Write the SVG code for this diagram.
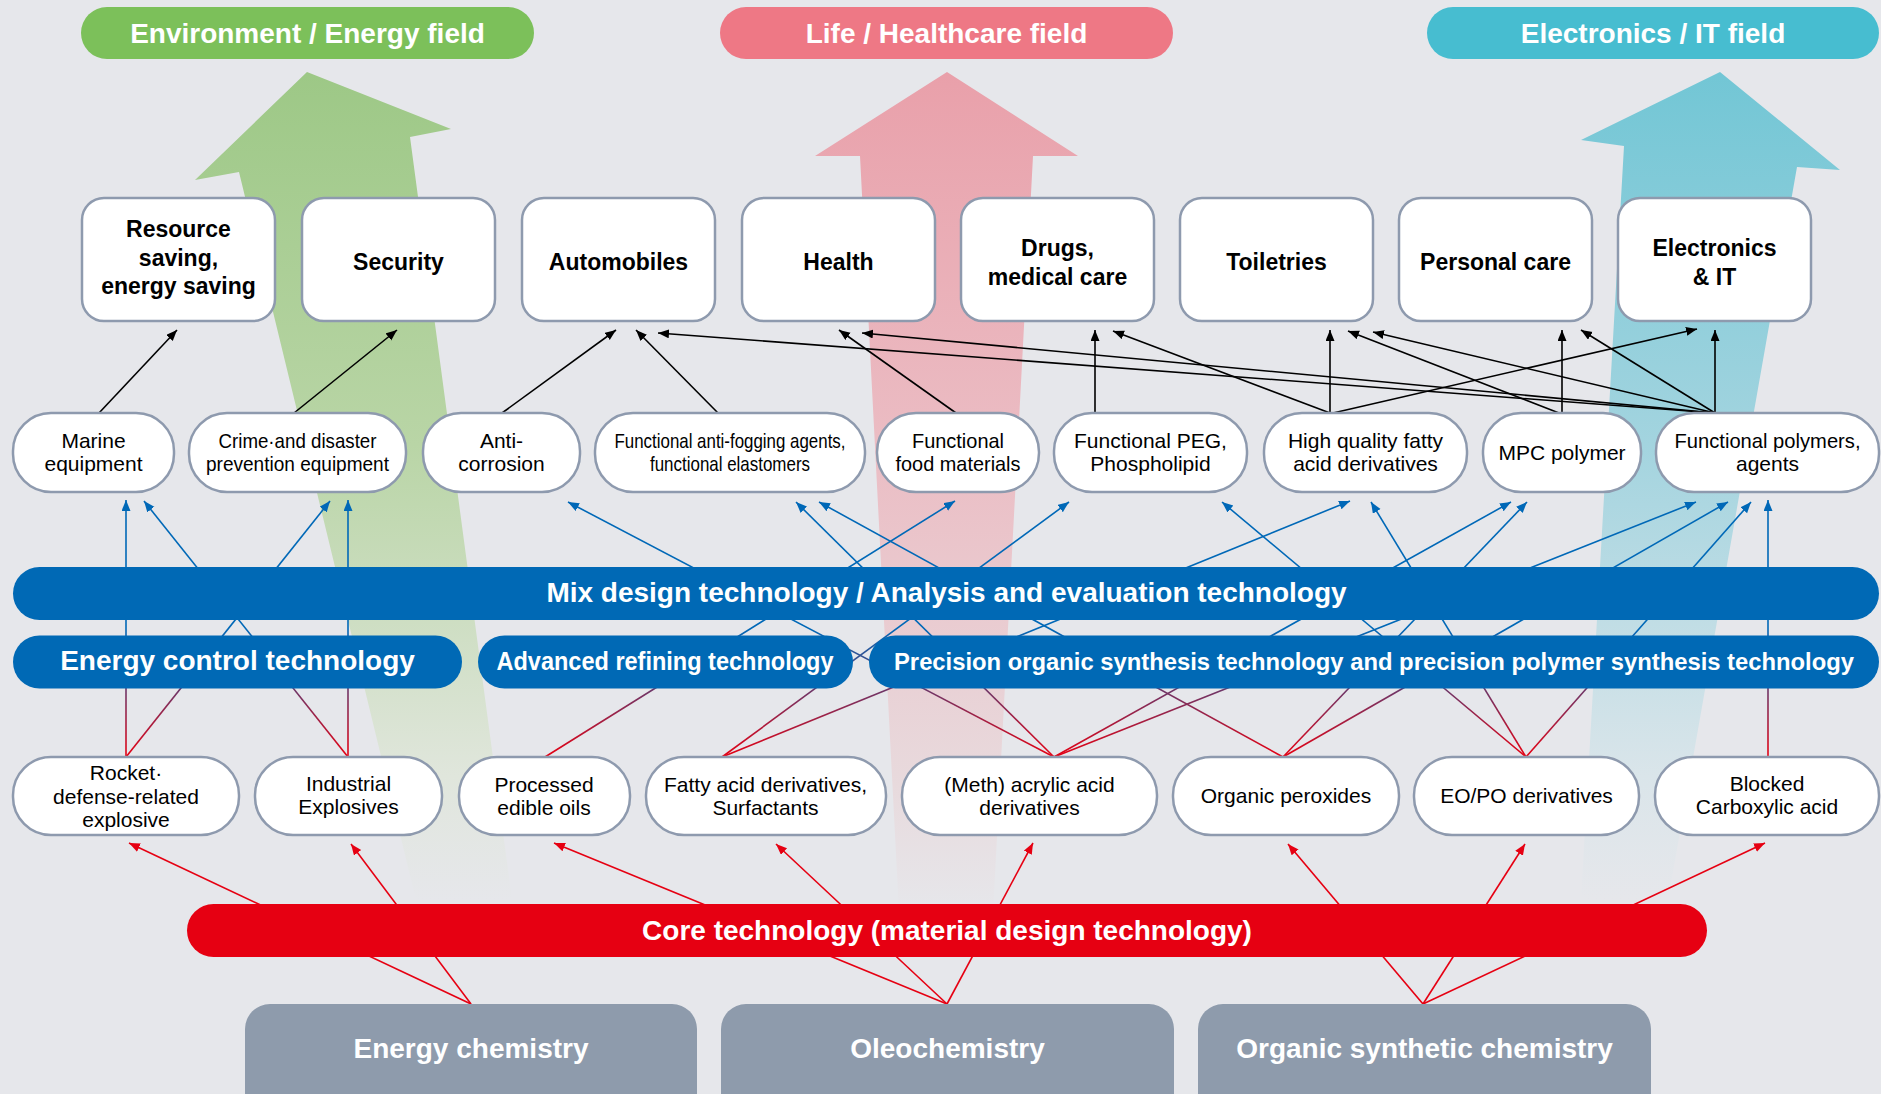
<svg xmlns="http://www.w3.org/2000/svg" width="1881" height="1094" viewBox="0 0 1881 1094">
<style>
.t{font-family:"Liberation Sans",Arial,Helvetica,sans-serif;text-anchor:middle}
.tb{font-weight:bold;font-size:23px;fill:#000}
.tn{font-size:21px;fill:#000}
.tw{font-weight:bold;font-size:28px;fill:#fff}
.cat{fill:#fff;stroke:#8E9AAE;stroke-width:2.5}
.nd{fill:#fff;stroke:#8E9AAE;stroke-width:2.5}
.band{fill:#0069B5}
.core{fill:#E60012}
.src{fill:#8E9BAC}
.cb{stroke:#000;stroke-width:1.6;fill:none;marker-end:url(#ak)}
.cbl{stroke:url(#gBR);stroke-width:1.6;fill:none;marker-end:url(#ab)}
.cr{stroke:#E60012;stroke-width:1.6;fill:none;marker-end:url(#ar)}
</style>
<defs>
<linearGradient id="gBR" gradientUnits="userSpaceOnUse" x1="0" y1="757" x2="0" y2="628">
<stop offset="0" stop-color="#E60012"/><stop offset="1" stop-color="#0068B7"/>
</linearGradient>
<linearGradient id="gG" gradientUnits="userSpaceOnUse" x1="0" y1="72" x2="0" y2="900">
<stop offset="0" stop-color="#9DC886"/><stop offset="0.45" stop-color="#B9D5A6"/><stop offset="0.85" stop-color="#E0E6DC"/><stop offset="1" stop-color="#E6E7EB"/>
</linearGradient>
<linearGradient id="gP" gradientUnits="userSpaceOnUse" x1="0" y1="72" x2="0" y2="912">
<stop offset="0" stop-color="#E9A0AA"/><stop offset="0.45" stop-color="#EBBDC4"/><stop offset="0.85" stop-color="#E8DADD"/><stop offset="1" stop-color="#E6E7EB"/>
</linearGradient>
<linearGradient id="gC" gradientUnits="userSpaceOnUse" x1="0" y1="72" x2="0" y2="900">
<stop offset="0" stop-color="#72C6D5"/><stop offset="0.45" stop-color="#A3D4DF"/><stop offset="0.85" stop-color="#DAE5EA"/><stop offset="1" stop-color="#E6E7EB"/>
</linearGradient>
<marker id="ak" markerUnits="userSpaceOnUse" markerWidth="12" markerHeight="10" refX="11" refY="4.5" orient="auto"><path d="M0,0 L11,4.5 L0,9 z" fill="#000"/></marker>
<marker id="ab" markerUnits="userSpaceOnUse" markerWidth="12" markerHeight="10" refX="11" refY="4.5" orient="auto"><path d="M0,0 L11,4.5 L0,9 z" fill="#0068B7"/></marker>
<marker id="ar" markerUnits="userSpaceOnUse" markerWidth="12" markerHeight="10" refX="11" refY="4.5" orient="auto"><path d="M0,0 L11,4.5 L0,9 z" fill="#E60012"/></marker>
</defs>
<rect x="0" y="0" width="1881" height="1094" fill="#E6E7EB"/>
<g id="field-arrows">
<polygon points="307,72 451,129 410,137 512,900 416,900 239,172 195,180" fill="url(#gG)"/>
<polygon points="947,72 1078,156 1033,156 993,912 899,912 860,156 815,156" fill="url(#gP)"/>
<polygon points="1720,72 1840,170 1797,167 1668,900 1581,900 1624,146 1581,140" fill="url(#gC)"/>
</g>
<g id="field-env"><rect x="81" y="7" width="453" height="52" rx="26" fill="#7CC05A"/><text class="t tw" x="307.5" y="43">Environment / Energy field</text></g>
<g id="field-life"><rect x="720" y="7" width="453" height="52" rx="26" fill="#EE7885"/><text class="t tw" x="946.5" y="43">Life / Healthcare field</text></g>
<g id="field-elec"><rect x="1427" y="7" width="452" height="52" rx="26" fill="#47BDD0"/><text class="t tw" x="1653" y="43">Electronics / IT field</text></g>
<g id="connectors">
<g id="black">
<path class="cb" d="M99,413 L177,330"/>
<path class="cb" d="M294,413 L397,330"/>
<path class="cb" d="M502,413 L616,330"/>
<path class="cb" d="M718,413 L636,330"/>
<path class="cb" d="M1715,413 L658,333"/>
<path class="cb" d="M956,413 L839,330"/>
<path class="cb" d="M1715,413 L862,333"/>
<path class="cb" d="M1095,413 L1095,330"/>
<path class="cb" d="M1330,413 L1113,331"/>
<path class="cb" d="M1330,413 L1330,330"/>
<path class="cb" d="M1559,413 L1348,331"/>
<path class="cb" d="M1715,413 L1373,332"/>
<path class="cb" d="M1562,413 L1562,330"/>
<path class="cb" d="M1715,413 L1581,330"/>
<path class="cb" d="M1333,413 L1697,329"/>
<path class="cb" d="M1715,413 L1715,330"/>
</g>
<g id="blue">
<path class="cbl" d="M126,757 L126,500"/>
<path class="cbl" d="M126,757 L330,501"/>
<path class="cbl" d="M348,757 L144,501"/>
<path class="cbl" d="M348,757 L348,500"/>
<path class="cbl" d="M545,757 L955,501"/>
<path class="cbl" d="M722,757 L1069,502"/>
<path class="cbl" d="M722,757 L1350,501"/>
<path class="cbl" d="M1054,757 L568,502"/>
<path class="cbl" d="M1054,757 L796,502"/>
<path class="cbl" d="M1054,757 L1511,502"/>
<path class="cbl" d="M1054,757 L1696,502"/>
<path class="cbl" d="M1283,757 L819,502"/>
<path class="cbl" d="M1283,757 L1527,502"/>
<path class="cbl" d="M1283,757 L1728,502"/>
<path class="cbl" d="M1526,757 L1222,502"/>
<path class="cbl" d="M1526,757 L1371,502"/>
<path class="cbl" d="M1526,757 L1751,502"/>
<path class="cbl" d="M1768,757 L1768,500"/>
</g>
<g id="red">
<path class="cr" d="M471,1004 L129,843"/>
<path class="cr" d="M471,1004 L351,844"/>
<path class="cr" d="M947,1004 L554,843"/>
<path class="cr" d="M947,1004 L776,844"/>
<path class="cr" d="M947,1004 L1033,843"/>
<path class="cr" d="M1423,1004 L1288,844"/>
<path class="cr" d="M1423,1004 L1525,844"/>
<path class="cr" d="M1423,1004 L1765,843"/>
</g>
</g>
<g id="cat-resource"><rect class="cat" x="82" y="198" width="193" height="123" rx="22"/><text class="t tb" x="178.5" y="237">Resource</text><text class="t tb" x="178.5" y="266">saving,</text><text class="t tb" x="178.5" y="294">energy saving</text></g>
<g id="cat-security"><rect class="cat" x="302" y="198" width="193" height="123" rx="22"/><text class="t tb" x="398.5" y="270">Security</text></g>
<g id="cat-auto"><rect class="cat" x="522" y="198" width="193" height="123" rx="22"/><text class="t tb" x="618.5" y="270">Automobiles</text></g>
<g id="cat-health"><rect class="cat" x="742" y="198" width="193" height="123" rx="22"/><text class="t tb" x="838.5" y="270">Health</text></g>
<g id="cat-drugs"><rect class="cat" x="961" y="198" width="193" height="123" rx="22"/><text class="t tb" x="1057.5" y="256">Drugs,</text><text class="t tb" x="1057.5" y="285">medical care</text></g>
<g id="cat-toiletries"><rect class="cat" x="1180" y="198" width="193" height="123" rx="22"/><text class="t tb" x="1276.5" y="270">Toiletries</text></g>
<g id="cat-personal"><rect class="cat" x="1399" y="198" width="193" height="123" rx="22"/><text class="t tb" x="1495.5" y="270">Personal care</text></g>
<g id="cat-electronics"><rect class="cat" x="1618" y="198" width="193" height="123" rx="22"/><text class="t tb" x="1714.5" y="256">Electronics</text><text class="t tb" x="1714.5" y="285">&amp; IT</text></g>
<g id="app-marine"><rect class="nd" x="13" y="413" width="161" height="79" rx="38"/><text class="t tn" x="93.5" y="448">Marine</text><text class="t tn" x="93.5" y="471">equipment</text></g>
<g id="app-crime"><rect class="nd" x="189" y="413" width="217" height="79" rx="38"/><text class="t tn" x="297.5" y="448" textLength="158" lengthAdjust="spacingAndGlyphs">Crime·and disaster</text><text class="t tn" x="297.5" y="471" textLength="183" lengthAdjust="spacingAndGlyphs">prevention equipment</text></g>
<g id="app-anticorrosion"><rect class="nd" x="423" y="413" width="157" height="79" rx="38"/><text class="t tn" x="501.5" y="448">Anti-</text><text class="t tn" x="501.5" y="471">corrosion</text></g>
<g id="app-antifog"><rect class="nd" x="595" y="413" width="270" height="79" rx="38"/><text class="t tn" x="730" y="448" textLength="231" lengthAdjust="spacingAndGlyphs">Functional anti-fogging agents,</text><text class="t tn" x="730" y="471" textLength="160" lengthAdjust="spacingAndGlyphs">functional elastomers</text></g>
<g id="app-food"><rect class="nd" x="877" y="413" width="162" height="79" rx="39"/><text class="t tn" x="958" y="448" textLength="92" lengthAdjust="spacingAndGlyphs">Functional</text><text class="t tn" x="958" y="471" textLength="125" lengthAdjust="spacingAndGlyphs">food materials</text></g>
<g id="app-peg"><rect class="nd" x="1054" y="413" width="193" height="79" rx="38"/><text class="t tn" x="1150.5" y="448">Functional PEG,</text><text class="t tn" x="1150.5" y="471">Phospholipid</text></g>
<g id="app-hq"><rect class="nd" x="1264" y="413" width="203" height="79" rx="38"/><text class="t tn" x="1365.5" y="448">High quality fatty</text><text class="t tn" x="1365.5" y="471">acid derivatives</text></g>
<g id="app-mpc"><rect class="nd" x="1483" y="413" width="158" height="79" rx="38"/><text class="t tn" x="1562" y="460">MPC polymer</text></g>
<g id="app-fp"><rect class="nd" x="1656" y="413" width="223" height="79" rx="38"/><text class="t tn" x="1767.5" y="448" textLength="186" lengthAdjust="spacingAndGlyphs">Functional polymers,</text><text class="t tn" x="1767.5" y="471">agents</text></g>
<g id="tech-mix"><rect class="band" x="13" y="567" width="1866" height="53" rx="26.5"/><text class="t tw" x="946.5" y="602">Mix design technology / Analysis and evaluation technology</text></g>
<g id="tech-energy"><rect class="band" x="13" y="635.5" width="449" height="53" rx="26.5"/><text class="t tw" x="237.5" y="670">Energy control technology</text></g>
<g id="tech-refining"><rect class="band" x="478" y="635.5" width="375" height="53" rx="26.5"/><text class="t tw" x="665" y="670" style="font-size:26px" textLength="337" lengthAdjust="spacingAndGlyphs">Advanced refining technology</text></g>
<g id="tech-precision"><rect class="band" x="869" y="635.5" width="1010" height="53" rx="26.5"/><text class="t tw" x="1374" y="670" style="font-size:24.5px" textLength="960" lengthAdjust="spacingAndGlyphs">Precision organic synthesis technology and precision polymer synthesis technology</text></g>
<g id="mat-rocket"><rect class="nd" x="13" y="757" width="226" height="78" rx="38"/><text class="t tn" x="126" y="780">Rocket·</text><text class="t tn" x="126" y="803.5">defense-related</text><text class="t tn" x="126" y="827">explosive</text></g>
<g id="mat-industrial"><rect class="nd" x="255" y="757" width="187" height="78" rx="38"/><text class="t tn" x="348.5" y="791">Industrial</text><text class="t tn" x="348.5" y="814">Explosives</text></g>
<g id="mat-processed"><rect class="nd" x="459" y="757" width="171" height="78" rx="38"/><text class="t tn" x="544" y="792">Processed</text><text class="t tn" x="544" y="815">edible oils</text></g>
<g id="mat-fatty"><rect class="nd" x="646" y="757" width="240" height="78" rx="38"/><text class="t tn" x="765.5" y="792">Fatty acid derivatives,</text><text class="t tn" x="765.5" y="815">Surfactants</text></g>
<g id="mat-meth"><rect class="nd" x="902" y="757" width="255" height="78" rx="38"/><text class="t tn" x="1029.5" y="792">(Meth) acrylic acid</text><text class="t tn" x="1029.5" y="815">derivatives</text></g>
<g id="mat-peroxides"><rect class="nd" x="1173" y="757" width="226" height="78" rx="38"/><text class="t tn" x="1286" y="803">Organic peroxides</text></g>
<g id="mat-eopo"><rect class="nd" x="1414" y="757" width="225" height="78" rx="38"/><text class="t tn" x="1526.5" y="803">EO/PO derivatives</text></g>
<g id="mat-blocked"><rect class="nd" x="1655" y="757" width="224" height="78" rx="38"/><text class="t tn" x="1767" y="791">Blocked</text><text class="t tn" x="1767" y="814">Carboxylic acid</text></g>
<g id="core"><rect class="core" x="187" y="904" width="1520" height="53" rx="26.5"/><text class="t tw" x="947" y="939.5">Core technology (material design technology)</text></g>
<g id="src-energy"><rect class="src" x="245" y="1004" width="452" height="120" rx="25"/><text class="t tw" x="471" y="1058">Energy chemistry</text></g>
<g id="src-oleo"><rect class="src" x="721" y="1004" width="453" height="120" rx="25"/><text class="t tw" x="947.5" y="1058">Oleochemistry</text></g>
<g id="src-organic"><rect class="src" x="1198" y="1004" width="453" height="120" rx="25"/><text class="t tw" x="1424.5" y="1058">Organic synthetic chemistry</text></g>
</svg>
